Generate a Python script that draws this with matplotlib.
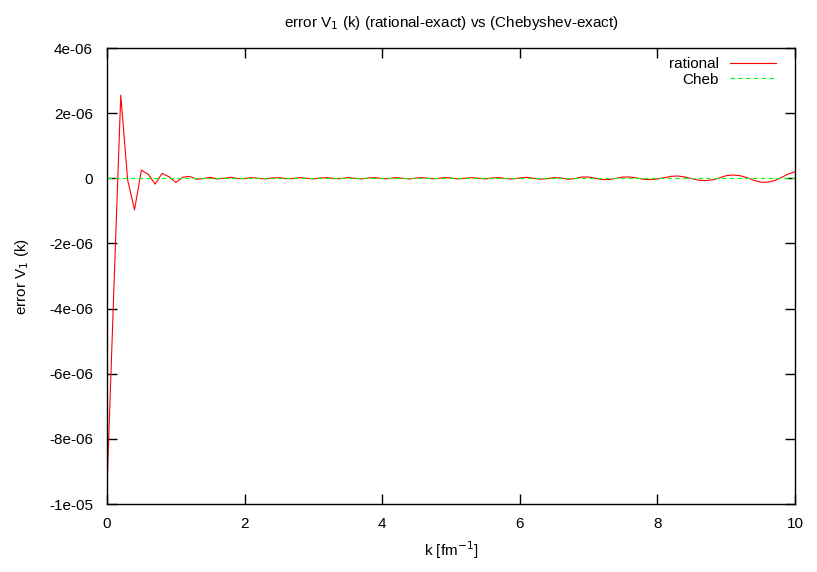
import matplotlib
matplotlib.use("Agg")
import matplotlib.pyplot as plt
import numpy as np

plt.rcParams['font.family'] = ['Liberation Sans', 'DejaVu Sans']

# k grid [fm^-1]
k_values = [round(0.1 * i, 1) for i in range(101)]

# rational - exact error (units of 1e-6)
rational_err_e6 = [
    -9.5, -3.4, 2.55, -0.05, -0.97, 0.25, 0.12, -0.18, 0.15, 0.05,
    -0.13, 0.03, 0.06, -0.03, -0.01, 0.03, -0.02, 0.0, 0.03, -0.01,
    -0.01, 0.02, 0.0, -0.02, 0.01, 0.02, -0.01, -0.01, 0.02, 0.0,
    -0.02, 0.01, 0.02, -0.01, -0.01, 0.02, 0.0, -0.02, 0.01, 0.02,
    -0.01, -0.01, 0.02, 0.0, -0.02, 0.01, 0.02, -0.01, -0.01, 0.02,
    0.01, -0.02, 0.0, 0.02, 0.0, -0.02, 0.01, 0.02, -0.01, -0.02,
    0.01, 0.03, 0.0, -0.03, -0.01, 0.02, 0.01, -0.03, -0.01, 0.04,
    0.04, 0.0, -0.04, -0.04, 0.0, 0.04, 0.04, 0.01, -0.03, -0.04,
    -0.02, 0.02, 0.06, 0.07, 0.04, -0.01, -0.06, -0.07, -0.05, 0.01,
    0.08, 0.1, 0.08, 0.02, -0.06, -0.12, -0.12, -0.07, 0.02, 0.13,
    0.2,
]
# Chebyshev - exact error (units of 1e-6), indistinguishable from zero
cheb_err_e6 = [0.0] * len(k_values)

y_ticks = [4e-06, 2e-06, 0, -2e-06, -4e-06, -6e-06, -8e-06, -1e-05]
y_tick_labels = ["4e-06", "2e-06", "0", "-2e-06", "-4e-06", "-6e-06", "-8e-06", "-1e-05"]
x_ticks = [0, 2, 4, 6, 8, 10]
x_tick_labels = ["0", "2", "4", "6", "8", "10"]

k = np.array(k_values)
rat = np.array(rational_err_e6) * 1e-6
cheb = np.array(cheb_err_e6) * 1e-6

fig = plt.figure(figsize=(8.17, 5.72), dpi=100)
ax = fig.add_axes([107/817, 1 - 504/572, (795-107)/817, (504-48)/572])

ax.plot(k, rat, color='#ff0000', lw=0.8, label='rational')
ax.plot(k, cheb, color='#00ff00', lw=0.8, ls=(0, (4, 3)), label='Cheb')

ax.set_xlim(0, 10)
ax.set_ylim(-1e-05, 4e-06)
ax.set_xticks(x_ticks)
ax.set_xticklabels(x_tick_labels)
ax.set_yticks(y_ticks)
ax.set_yticklabels(y_tick_labels)
ax.tick_params(direction='in', top=True, right=True, length=7, width=1,
               labelsize=11, pad=9)
ax.tick_params(axis='y', pad=10)
for s in ax.spines.values():
    s.set_linewidth(1.0)

ax.set_title('error V$_1$ (k) (rational-exact) vs (Chebyshev-exact)', fontsize=11, pad=15)
ax.set_xlabel('k [fm$^{-1}$]', fontsize=11, labelpad=6)
ax.set_ylabel('error V$_1$ (k)', fontsize=11, labelpad=13)

leg = ax.legend(loc='upper right', frameon=False, markerfirst=False,
                fontsize=11, handlelength=3.0, borderaxespad=0.2,
                bbox_to_anchor=(0.985, 1.0),
                handletextpad=0.7, labelspacing=0.1)
for t in leg.get_texts():
    t.set_ha('right')

fig.savefig('out.png', dpi=100)
